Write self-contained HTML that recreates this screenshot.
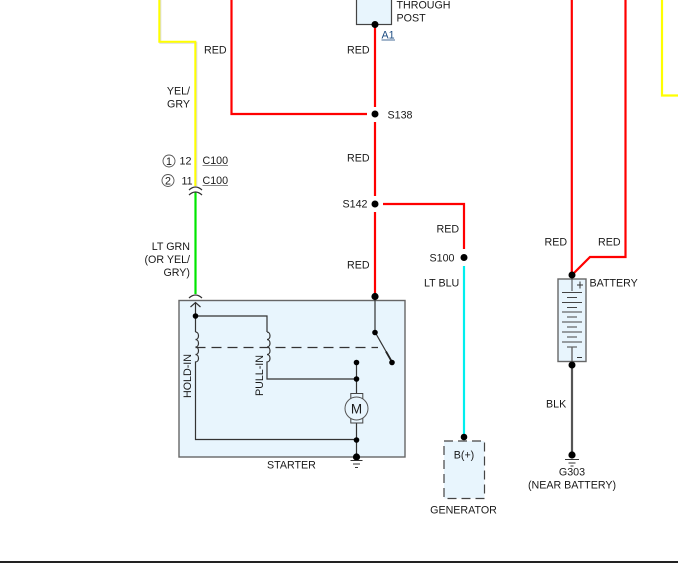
<!DOCTYPE html>
<html><head><meta charset="utf-8"><style>
html,body{margin:0;padding:0;background:#fff}
svg{display:block}
text{font-family:"Liberation Sans",Arial,sans-serif;font-size:10.7px;fill:#1a1a1a}
.e{text-anchor:end}.m{text-anchor:middle}
.w{fill:none;stroke-linejoin:miter}
.k{fill:none;stroke:#333;stroke-width:1.2}
</style></head><body>
<svg width="678" height="564" viewBox="0 0 678 564" xmlns="http://www.w3.org/2000/svg">
<rect width="678" height="564" fill="#fff"/>
<!-- yellow wires -->
<path class="w" d="M160.300 0V42.800H196.300V186" stroke="#dcdcdc" stroke-width="2"/>
<path class="w" d="M159.300 0V41.800H195.300V186" stroke="#ffff00" stroke-width="2"/>
<path class="w" d="M662 0V95.500H678" stroke="#ffff00" stroke-width="2.200"/>
<!-- green -->
<path class="w" d="M195.500 192V294" stroke="#00e600" stroke-width="2.200"/>
<!-- red wires -->
<path class="w" d="M231.500 0V114H367" stroke="#f00" stroke-width="2.200"/>
<path class="w" d="M375 25V107M375 122V196M375 212V296" stroke="#f00" stroke-width="2.200"/>
<path class="w" d="M383 204H464V249" stroke="#f00" stroke-width="2.200"/>
<path class="w" d="M571.800 0V275" stroke="#f00" stroke-width="2.200"/>
<path class="w" d="M625.500 0V257H590L572 275" stroke="#f00" stroke-width="2.200"/>
<!-- cyan -->
<path class="w" d="M464 266V437" stroke="#00eeee" stroke-width="2.200"/>
<!-- black -->
<path class="w" d="M572 366V452" stroke="#555" stroke-width="2.200"/>
<!-- through post -->
<rect x="356.500" y="-3" width="35" height="27.500" fill="#e8f5fd" stroke="#444" stroke-width="1.200"/>
<circle cx="375" cy="24.500" r="3.500" fill="#000"/>
<!-- splices -->
<circle cx="375" cy="114" r="3.500" fill="#000"/>
<circle cx="375" cy="204" r="3.500" fill="#000"/>
<circle cx="464" cy="257.500" r="3.500" fill="#000"/>
<!-- connector arcs -->
<path class="k" d="M189 190Q195.500 184 202 190M189 195Q195.500 189 202 195M189 298Q195.500 292 202 298"/>
<!-- starter -->
<rect x="179" y="300.500" width="226" height="156.500" fill="#e8f5fd" stroke="#666" stroke-width="1.400"/>
<path class="k" d="M190.500 307L195.500 302.500L200.500 307M195.500 303V332M195.500 316H267V332"/>
<path class="k" d="M195.500 332c4 0 4 7.500 0 7.500c4 0 4 7.500 0 7.500c4 0 4 7.500 0 7.500c4 0 4 7.500 0 7.500V439.500H356.500"/>
<path class="k" d="M267 332c4 0 4 7.500 0 7.500c4 0 4 7.500 0 7.500c4 0 4 7.500 0 7.500c4 0 4 7.500 0 7.500V379H356.500"/>
<path d="M195.500 347.500H378" fill="none" stroke="#333" stroke-width="1.200" stroke-dasharray="10 6"/>
<path class="k" d="M375 296V332L392 362M356.500 362V393M356.500 423V457"/>
<path d="M386 351.500L392 362" stroke="#222" stroke-width="1.800"/>
<rect x="350.800" y="393.500" width="12" height="5" fill="#e8f5fd" stroke="#444"/>
<rect x="350.800" y="418" width="12" height="5" fill="#e8f5fd" stroke="#444"/>
<circle cx="356.500" cy="408.500" r="11.500" fill="#e8f5fd" stroke="#555"/>
<text x="356.500" y="413.500" class="m" style="font-size:13.500px">M</text>
<g fill="#000">
<circle cx="195.500" cy="316" r="2.800"/><circle cx="375" cy="296.500" r="3.600"/>
<circle cx="375" cy="332.500" r="2.800"/><circle cx="392" cy="362.500" r="2.800"/>
<circle cx="356.500" cy="362.500" r="2.800"/><circle cx="356.500" cy="379" r="2.800"/>
<circle cx="356.500" cy="440" r="2.800"/><circle cx="356.500" cy="457" r="3.600"/>
</g>
<path d="M350.500 460.500H362.500M353 464H360M355 467.500H358" stroke="#333" stroke-width="1.100" fill="none"/>
<text transform="translate(191,398) rotate(-90)" x="0" y="0">HOLD-IN</text>
<text transform="translate(263,396) rotate(-90)" x="0" y="0">PULL-IN</text>
<!-- generator -->
<rect x="444" y="441" width="40.500" height="57.500" fill="#e8f5fd" stroke="#444" stroke-width="1.200" stroke-dasharray="9 5"/>
<circle cx="464" cy="437" r="3.300" fill="#000"/>
<!-- battery -->
<rect x="558" y="279" width="28" height="82.500" fill="#e8f5fd" stroke="#666" stroke-width="1.400"/>
<path d="M572 277V291M562 292.500H582M567 297.500H577M562 302.500H582M567 307.500H577M562 312H582M567 317H577M562 322H582M567 327H577M562 332H582M567 337H577M562 342H582M567 347H577" stroke="#444" stroke-width="1" fill="none"/>
<path d="M572 347V366" stroke="#666" stroke-width="1.400"/>
<path d="M580 281.500V288.500M577 285H583M577 357.500H582" stroke="#333" stroke-width="1"/>
<circle cx="572" cy="275" r="3.500" fill="#000"/>
<circle cx="572" cy="365" r="3.500" fill="#000"/>
<!-- ground G303 -->
<circle cx="572" cy="455" r="3.600" fill="#000"/>
<path d="M565 459.500H579M568.500 463H575.500M570.500 466H573.500" stroke="#333" stroke-width="1.100" fill="none"/>
<!-- circled numbers -->
<circle cx="169" cy="161" r="6" fill="none" stroke="#555" stroke-width="0.900"/>
<circle cx="168" cy="180.500" r="6" fill="none" stroke="#555" stroke-width="0.900"/>
<text x="169" y="164.800" class="m">1</text>
<text x="168" y="184.300" class="m">2</text>
<text x="179.500" y="164.500">12</text>
<text x="181.500" y="184.500">11</text>
<text x="202.500" y="164">C100</text>
<text x="202.500" y="184">C100</text>
<path d="M202.500 165.500H228M202.500 185.500H228" stroke="#666" stroke-width="0.800"/>
<!-- labels -->
<text x="204" y="53.500">RED</text>
<text x="190" y="94.500" class="e">YEL/</text>
<text x="190" y="107.500" class="e">GRY</text>
<text x="190" y="250" class="e">LT GRN</text>
<text x="190" y="263" class="e">(OR YEL/</text>
<text x="190" y="276" class="e">GRY)</text>
<text x="396.500" y="8.500">THROUGH</text>
<text x="396.500" y="21.500">POST</text>
<text x="381.500" y="38.500" style="fill:#1a4a80">A1</text>
<path d="M381.500 40H395" stroke="#1a4a80" stroke-width="0.800"/>
<text x="347" y="53.500">RED</text>
<text x="387.500" y="118.500">S138</text>
<text x="347" y="161.500">RED</text>
<text x="342.500" y="207.500">S142</text>
<text x="347" y="268.500">RED</text>
<text x="436.500" y="232.500">RED</text>
<text x="429.500" y="261.500">S100</text>
<text x="424" y="286.500">LT BLU</text>
<text x="544.500" y="245.500">RED</text>
<text x="598" y="245.500">RED</text>
<text x="589.500" y="286.500">BATTERY</text>
<text x="546" y="407.500">BLK</text>
<text x="267" y="468.500">STARTER</text>
<text x="464" y="458.500" class="m">B(+)</text>
<text x="463.500" y="513.500" class="m">GENERATOR</text>
<text x="572" y="475.500" class="m">G303</text>
<text x="572" y="488.500" class="m">(NEAR BATTERY)</text>
<!-- bottom rule -->
<rect x="0" y="561" width="678" height="2" fill="#222"/>
</svg>
</body></html>
